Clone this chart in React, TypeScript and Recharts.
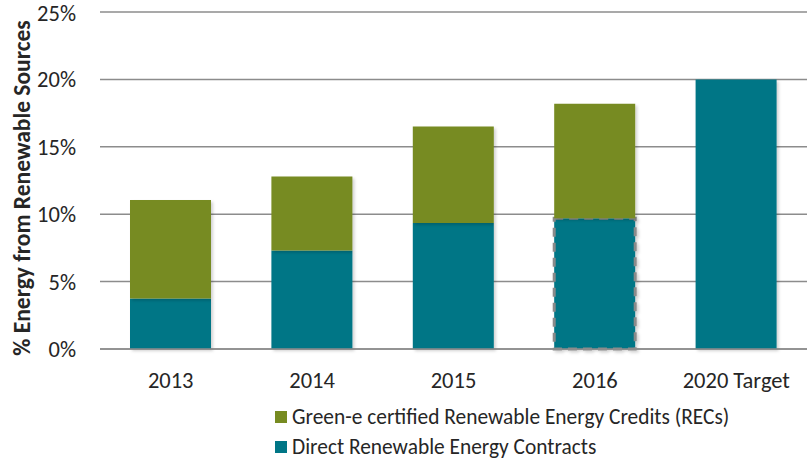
import React from "react"
import { BarChart, Bar, XAxis, YAxis, CartesianGrid, Cell } from "recharts"

const years = ["2013", "2014", "2015", "2016", "2020 Target"]
const directContracts = [3.75, 7.3, 9.35, 9.7, 20]
const greenRecs = [7.3, 5.5, 7.15, 8.5, 0]
const yTicks = [0, 5, 10, 15, 20, 25]

const data = years.map((year, i) => ({
  year,
  direct: directContracts[i],
  recs: greenRecs[i],
}))

const colors = {
  recs: "#778b21",
  direct: "#007686",
  grid: "#8c8c8c",
  text: "#262626",
}

const font = "Carlito, Calibri, Lato, sans-serif"

const legendItems = [
  { label: "Green-e certified Renewable Energy Credits (RECs)", color: colors.recs },
  { label: "Direct Renewable Energy Contracts", color: colors.direct },
]

function YTitle() {
  return (
    <text
      x={22}
      y={188}
      transform="rotate(-90 22 188)"
      textAnchor="middle"
      dominantBaseline="central"
      fontFamily={font}
      fontWeight={700}
      fontSize={23.5}
      fill={colors.text}
    >
      % Energy from Renewable Sources
    </text>
  )
}

export default function App() {
  return (
    <div style={{ position: "absolute", left: 0, top: 0, width: 807, height: 460, background: "#fff", fontFamily: font }}>
      <BarChart
        width={807}
        height={460}
        data={data}
        margin={{ top: 12, right: 0, left: 0, bottom: 81 }}
        barSize={81}
      >
        <defs>
          <filter id="barShadow" x="-10%" y="-10%" width="130%" height="130%">
            <feDropShadow dx="2" dy="2" stdDeviation="1.5" floodColor="#000" floodOpacity="0.18" />
          </filter>
        </defs>
        <CartesianGrid vertical={false} stroke={colors.grid} strokeWidth={1.5} />
        <XAxis
          dataKey="year"
          axisLine={{ stroke: colors.grid, strokeWidth: 1.5 }}
          tickLine={false}
          tickSize={0}
          tickMargin={23}
          height={30}
          tick={{ fontSize: 22.5, fill: colors.text, fontFamily: font }}
        />
        <YAxis
          domain={[0, 25]}
          ticks={yTicks}
          width={100}
          axisLine={false}
          tickLine={false}
          tickSize={0}
          tickMargin={24}
          tickFormatter={(v: number) => `${v}%`}
          tick={{ fontSize: 22.5, fill: colors.text, fontFamily: font }}
          label={{ content: () => <YTitle /> }}
        />
        <Bar dataKey="direct" stackId="a" fill={colors.direct} isAnimationActive={false} filter="url(#barShadow)">
          {data.map((d, i) => (
            <Cell
              key={d.year}
              fill={colors.direct}
              stroke={i === 3 ? "#8a8a8a" : "none"}
              strokeWidth={i === 3 ? 3 : 0}
              strokeDasharray={i === 3 ? "9 6" : undefined}
            />
          ))}
        </Bar>
        <Bar dataKey="recs" stackId="a" fill={colors.recs} isAnimationActive={false} filter="url(#barShadow)" />
      </BarChart>
      <div style={{ position: "absolute", left: 275, top: 402, fontSize: 21.4, color: colors.text, lineHeight: "20px" }}>
        {legendItems.map((item) => (
          <div key={item.label} style={{ display: "flex", alignItems: "center", whiteSpace: "nowrap", height: 30 }}>
            <span style={{ display: "inline-block", width: 12, height: 12, background: item.color, marginRight: 5 }} />
            <span>{item.label}</span>
          </div>
        ))}
      </div>
    </div>
  )
}
